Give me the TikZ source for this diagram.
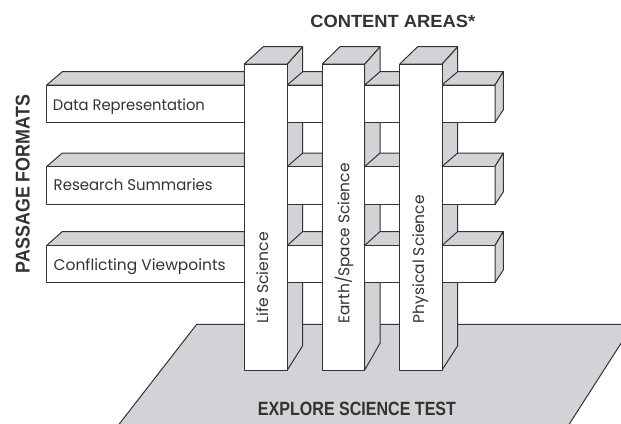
\documentclass[tikz,border=0pt]{standalone}
\usepackage{graphicx}
\usepackage{fontspec}
\setmainfont{Poppins}
\newfontfamily\headfont{Liberation Sans}
\definecolor{fillg}{HTML}{D1D3D6}
\definecolor{ink}{HTML}{333333}
\begin{document}
\begin{tikzpicture}[x=1pt,y=-1pt,line join=round,
  edge/.style={draw=ink,line width=1pt},
  face/.style={edge,fill=fillg},
  frontface/.style={edge,fill=white},
  lab/.style={text=ink,inner sep=0pt,anchor=base west},
  vlab/.style={text=ink,inner sep=0pt,anchor=base west,rotate=90},
  head/.style={text=ink,inner sep=0pt}]
\useasboundingbox (0,0) rectangle (621,423);
% base platform
\begin{scope}
  \clip (0,0) rectangle (621,423);
  \draw[face] (196.7,324.3) -- (633.2,324.3) -- (565.5,430) -- (114.6,430) -- cycle;
\end{scope}
% columns: side and top faces
\foreach \xl/\xr/\xbl/\xbr/\ybb in {244.3/287.3/263.3/302.7/345.7, 322.3/364.7/340/380/343.3, 399.7/442/417.7/457.7/345.7}{
  \draw[face] (\xr,64) -- (\xbr,46.7) -- (\xbr,\ybb) -- (\xr,370) -- cycle;
  \draw[face] (\xl,64) -- (\xbl,46.7) -- (\xbr,46.7) -- (\xr,64) -- cycle;
}
% bars
\foreach \yb/\yf/\ybot in {71.7/85/122.3, 153/166.5/204.5, 231.5/245.5/282.5}{
  \draw[face] (46.7,\yf) -- (62.3,\yb) -- (244.3,\yb) -- (244.3,\yf) -- cycle;
  \draw[face] (287.3,\yf) -- (302.7,\yb) -- (322.3,\yb) -- (322.3,\yf) -- cycle;
  \draw[face] (364.7,\yf) -- (380,\yb) -- (399.7,\yb) -- (399.7,\yf) -- cycle;
  \draw[face] (442,\yf) -- (457.7,\yb) -- (503.3,\yb) -- (495,\yf) -- cycle;
  \draw[frontface] (46.7,\yf) rectangle (495,\ybot);
  \draw[face] (495,\yf) -- (503.3,\yb) -- (503.3,\ybot-12.5) -- (495,\ybot) -- cycle;
}
% column front faces
\draw[frontface] (244.3,64) rectangle (287.3,370);
\draw[frontface] (322.3,64) rectangle (364.7,370);
\draw[frontface] (399.7,64) rectangle (442,370);
% labels
\node[lab] (dr) at (52.7,110.7) {\resizebox{152pt}{11.6pt}{Data Representation}};
\node[lab] (rs) at (53.5,190.5) {\resizebox{159pt}{11.8pt}{Research Summaries}};
\node[lab] (cv) at (53.5,270) {\resizebox{172pt}{11.8pt}{Conflicting Viewpoints}};
\node[vlab] (ls) at (268.2,323.5) {\resizebox{91pt}{11.8pt}{Life Science}};
\node[vlab] (es) at (349.3,323.5) {\resizebox{160pt}{11.8pt}{Earth\smash{/}Space Science}};
\node[vlab] (ps) at (424.2,323.5) {\resizebox{128pt}{11.8pt}{Physical Science}};
% headings
\node[head] (ca) at (392.8,21.2) {\resizebox{165pt}{12.3pt}{\headfont\bfseries CONTENT AREAS*}};
\node[head,rotate=90] (pf) at (22.8,184) {\resizebox{178pt}{13.9pt}{\headfont\bfseries PASSAGE FORMATS}};
\node[head] (et) at (357,409) {\resizebox{198pt}{13.4pt}{\headfont\bfseries EXPLORE SCIENCE TEST}};
\end{tikzpicture}
\end{document}
